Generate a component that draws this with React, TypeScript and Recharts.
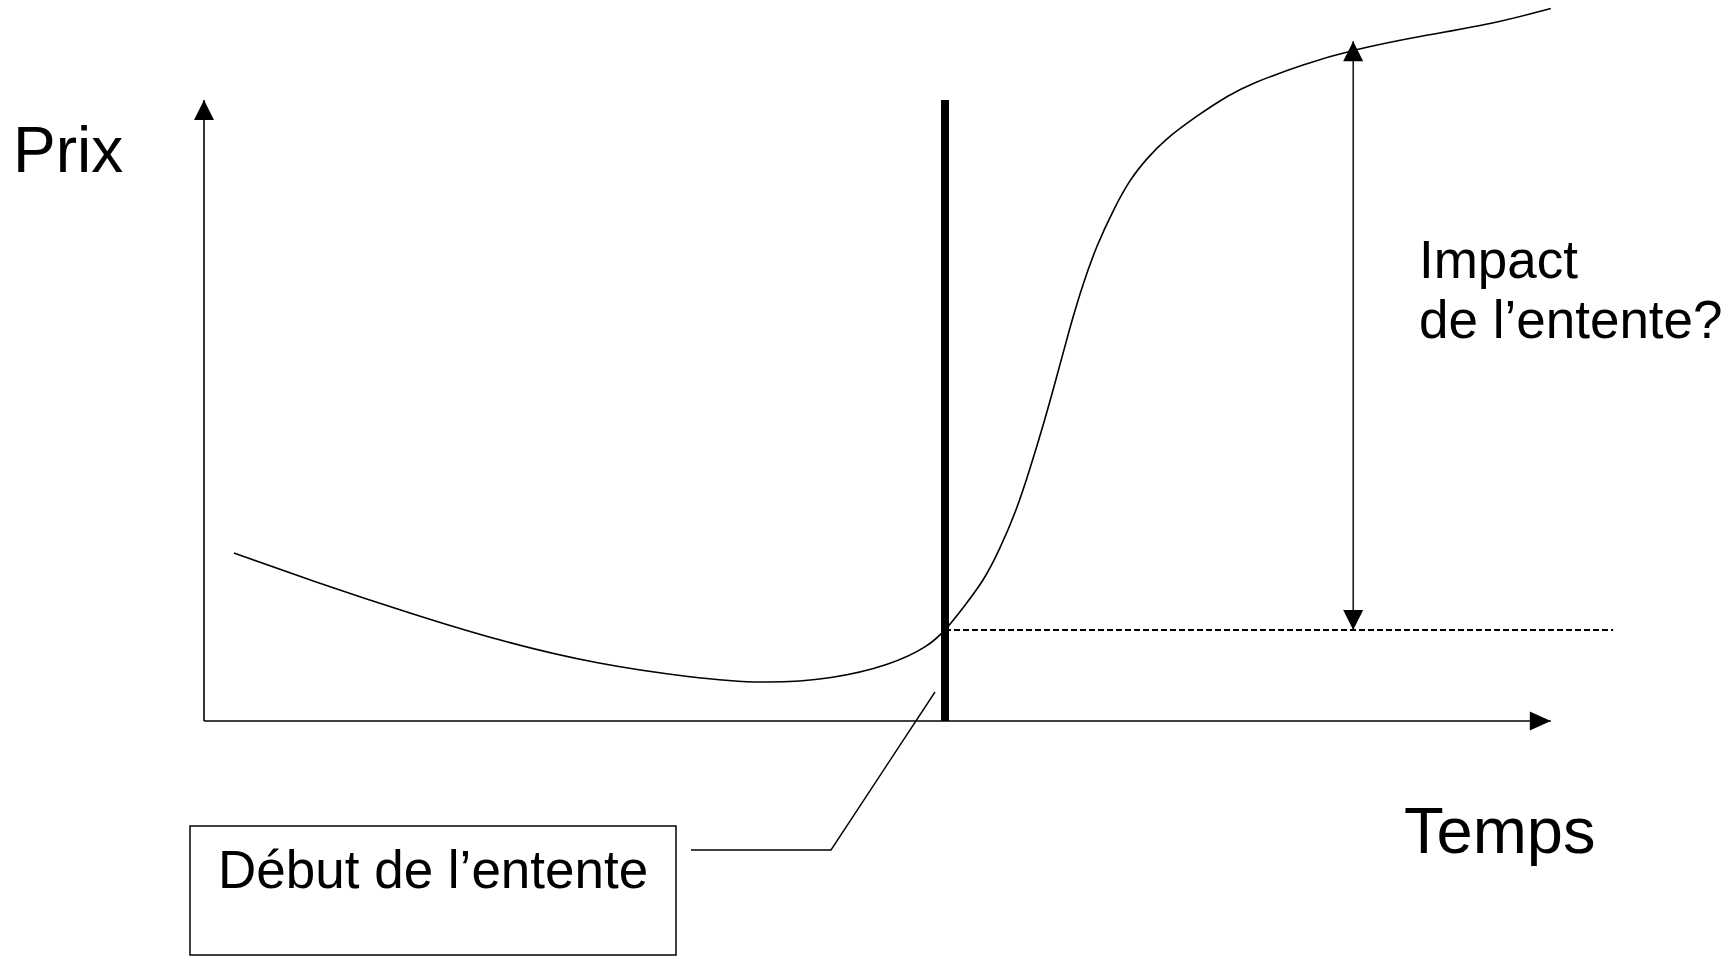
import React from 'react';
import { ComposedChart, Line, XAxis, YAxis, ReferenceLine } from 'recharts';

// time (x) and price (y) of the curve, in chart units
const times = [
  2.3, 8.5, 15.8, 23.0, 30.3, 37.5, 43.0, 48.4, 52.8, 55.7, 57.1, 58.4, 60.0, 61.2, 62.5, 63.5,
  64.6, 65.6, 66.6, 67.6, 68.7, 70.0, 71.2, 72.5, 73.8, 76.4, 78.9, 80.5, 84.5, 88.4, 93.7, 99.2, 103.6,
];
const prices = [
  24.0, 19.9, 15.4, 11.3, 8.1, 6.2, 5.3, 6.0, 8.0, 10.6, 13.1, 16.2, 20.1, 24.5, 30.1, 35.8,
  42.5, 49.2, 56.2, 62.4, 68.1, 73.2, 77.3, 80.3, 82.9, 86.5, 89.5, 91.0, 93.8, 95.9, 97.9, 99.6, 101.8,
];

const startTime = 57; // début de l'entente
const startPrice = 13; // prix au début de l'entente
const impactTime = 88.4;
const impactTop = 97.1;
const axisEndX = 103.6;
const axisEndY = 88.7;
const dashedEnd = 108.4;

const chartData = times.map((t, i) => ({ t, price: prices[i] }));

const W = 1731;
const H = 957;
const margin = { top: 0, right: 97, bottom: 236, left: 204 };
const font = '"Liberation Sans", Arial, sans-serif';

type SegProps = { x1?: number; y1?: number; x2?: number; y2?: number };

const head = (tx: number, ty: number, fx: number, fy: number, len: number, half: number, key: string) => {
  const dx = tx - fx;
  const dy = ty - fy;
  const d = Math.sqrt(dx * dx + dy * dy) || 1;
  const ux = dx / d;
  const uy = dy / d;
  const bx = tx - ux * len;
  const by = ty - uy * len;
  const pts = `${tx},${ty} ${bx - uy * half},${by + ux * half} ${bx + uy * half},${by - ux * half}`;
  return <polygon key={key} points={pts} fill="#000" />;
};

const arrowShape = (both: boolean, len: number, half: number, width: number) => (p: SegProps) => {
  const { x1 = 0, y1 = 0, x2 = 0, y2 = 0 } = p;
  return (
    <g>
      <line x1={x1} y1={y1} x2={x2} y2={y2} stroke="#000" strokeWidth={width} />
      {head(x2, y2, x1, y1, len, half, 'end')}
      {both && head(x1, y1, x2, y2, len, half, 'start')}
    </g>
  );
};

const App = () => (
  <div style={{ position: 'absolute', left: 0, top: 0, width: W, height: H, background: '#fff' }}>
    <ComposedChart width={W} height={H} data={chartData} margin={margin}>
      <XAxis type="number" dataKey="t" domain={[0, 110]} hide />
      <YAxis type="number" domain={[0, 103]} hide />
      <ReferenceLine
        segment={[{ x: 0, y: 0 }, { x: 0, y: axisEndY }]}
        shape={arrowShape(false, 20, 10, 1.6)}
      />
      <ReferenceLine
        segment={[{ x: 0, y: 0 }, { x: axisEndX, y: 0 }]}
        shape={arrowShape(false, 21, 9.5, 1.6)}
      />
      <ReferenceLine
        segment={[{ x: startTime, y: startPrice }, { x: dashedEnd, y: startPrice }]}
        stroke="#000"
        strokeWidth={1.8}
        strokeDasharray="6 3"
      />
      <ReferenceLine
        segment={[{ x: impactTime, y: startPrice }, { x: impactTime, y: impactTop }]}
        shape={arrowShape(true, 20, 10, 1.4)}
      />
      <ReferenceLine
        segment={[{ x: startTime, y: 0 }, { x: startTime, y: axisEndY }]}
        stroke="#000"
        strokeWidth={8}
      />
      <Line
        type="basis"
        dataKey="price"
        stroke="#000"
        strokeWidth={1.6}
        dot={false}
        activeDot={false}
        isAnimationActive={false}
      />
    </ComposedChart>
    <svg width={W} height={H} style={{ position: 'absolute', left: 0, top: 0, pointerEvents: 'none' }}>
      <g fontFamily={font} fill="#000">
        <text x={13} y={172} fontSize={64}>Prix</text>
        <text x={1404} y={853} fontSize={65}>Temps</text>
        <text x={1419} y={278} fontSize={53}>Impact</text>
        <text x={1419} y={338} fontSize={53}>de l’entente?</text>
        <text x={218} y={888} fontSize={53}>Début de l’entente</text>
      </g>
      <rect x={190} y={826} width={486} height={129} fill="none" stroke="#000" strokeWidth={1.5} />
      <polyline points="691,850 831,850 935,692" fill="none" stroke="#000" strokeWidth={1.4} />
    </svg>
  </div>
);

export default App;
